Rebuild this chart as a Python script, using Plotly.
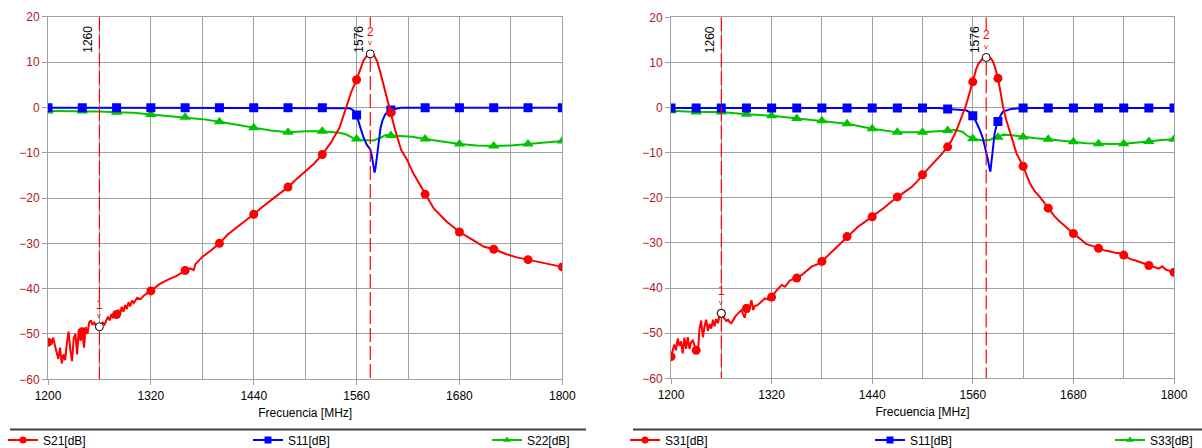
import plotly.graph_objects as go

# ---------------- LEFT CHART DATA ----------------
L_S21_F = [1200, 1202, 1204, 1206, 1208, 1210, 1212, 1214, 1216, 1218, 1220, 1222, 1224, 1226, 1228,
           1230, 1232, 1234, 1236, 1238, 1240, 1242, 1244, 1246, 1248, 1250, 1252, 1254, 1256, 1258,
           1260, 1262, 1264, 1266, 1268, 1270, 1272, 1274, 1276, 1278, 1280, 1282, 1284, 1286, 1288,
           1290, 1292, 1294, 1296, 1298, 1300, 1304, 1308, 1312, 1316, 1320, 1330, 1340, 1350, 1360,
           1366, 1370, 1372, 1380, 1390, 1400, 1410, 1420, 1430, 1440, 1450, 1460, 1470, 1480, 1490,
           1500, 1510, 1520, 1530, 1540, 1548, 1554, 1560, 1565, 1568, 1572, 1576, 1580, 1584, 1588,
           1592, 1596, 1600, 1605, 1612, 1619, 1626, 1634, 1640, 1650, 1665, 1680, 1696, 1708, 1720,
           1735, 1747, 1760, 1778, 1789, 1800]
L_S21_V = [-51.8, -51.2, -52.3, -50.8, -52.5, -54.0, -55.5, -53.0, -56.5, -54.5, -55.8, -52.0, -49.5, -53.5, -56.0,
           -51.0, -50.0, -54.5, -49.0, -51.5, -49.5, -53.0, -48.5, -50.0, -47.5, -47.0, -48.0, -47.5, -48.2, -48.0,
           -48.4, -47.8, -47.5, -47.9, -47.2, -46.2, -47.0, -45.6, -46.5, -45.2, -45.7, -44.6, -45.8, -44.0, -45.1,
           -43.6, -44.5, -43.0, -43.9, -42.6, -43.2, -42.0, -42.3, -41.5, -41.0, -40.5, -39.0, -38.0, -37.2, -36.0,
           -35.5, -35.9, -34.6, -33.0, -31.6, -30.0, -28.0, -26.6, -25.2, -23.6, -22.0, -20.6, -19.2, -17.6, -15.8,
           -14.2, -12.5, -10.4, -7.8, -4.5, 0.0, 3.5, 6.1, 9.0, 10.3, 11.4, 11.9, 11.6, 10.2, 7.5,
           4.5, 1.5, -1.2, -5.0, -9.4, -11.6, -14.5, -17.1, -19.2, -22.3, -25.2, -27.5, -29.3, -30.7, -31.3,
           -32.4, -33.1, -33.6, -34.4, -34.7, -35.2]

L_S11_F = [1200, 1540, 1552, 1556, 1560, 1564, 1568, 1572, 1576, 1578, 1580, 1581, 1582, 1584, 1586,
           1588, 1590, 1593, 1596, 1600, 1606, 1612, 1800]
L_S11_V = [-0.1, -0.1, -0.2, -0.6, -1.7, -4.2, -6.6, -8.3, -9.3, -11.0, -13.5, -14.4, -13.5, -10.5, -7.0,
           -4.5, -3.0, -1.7, -1.0, -0.6, -0.3, -0.1, -0.1]

L_S22_F = [1200, 1240, 1260, 1280, 1300, 1320, 1340, 1360, 1380, 1400, 1420, 1440, 1460, 1480, 1500,
           1520, 1540, 1548, 1556, 1564, 1572, 1580, 1588, 1594, 1600, 1610, 1625, 1640, 1660, 1680,
           1700, 1720, 1740, 1760, 1780, 1800]
L_S22_V = [-0.8, -0.8, -0.9, -1.1, -1.2, -1.6, -1.9, -2.2, -2.6, -3.2, -3.8, -4.5, -5.1, -5.5, -5.3,
           -5.3, -5.6, -6.0, -6.8, -7.2, -7.3, -7.3, -6.7, -6.1, -6.2, -6.3, -6.5, -7.0, -7.6, -8.1,
           -8.4, -8.5, -8.4, -8.1, -7.8, -7.4]

L_MK_F = [1200, 1240, 1280, 1320, 1360, 1400, 1440, 1480, 1520, 1560, 1600, 1640, 1680, 1720, 1760, 1800]
L_S21_MK = [-51.8, -49.5, -45.7, -40.5, -36.0, -30.0, -23.6, -17.6, -10.4, 6.1, -1.2, -19.2, -27.5, -31.3, -33.6, -35.2]
L_S11_MK = [-0.1, -0.1, -0.1, -0.1, -0.1, -0.1, -0.1, -0.1, -0.1, -1.7, -0.6, -0.1, -0.1, -0.1, -0.1, -0.1]
L_S22_MK = [-0.8, -0.8, -1.1, -1.6, -2.2, -3.2, -4.5, -5.5, -5.3, -7.0, -6.2, -7.0, -8.1, -8.5, -8.1, -7.4]

# ---------------- RIGHT CHART DATA ----------------
R_S31_F = [1200, 1202, 1204, 1206, 1208, 1210, 1212, 1214, 1216, 1218, 1220, 1222, 1224, 1226, 1228,
           1230, 1232, 1234, 1236, 1238, 1240, 1242, 1244, 1246, 1248, 1250, 1252, 1254, 1256, 1258,
           1260, 1262, 1264, 1266, 1268, 1270, 1272, 1274, 1276, 1278, 1280, 1282, 1284, 1286, 1288,
           1290, 1292, 1294, 1296, 1298, 1300, 1303, 1306, 1309, 1312, 1316, 1320, 1326, 1332, 1336,
           1342, 1350, 1356, 1362, 1368, 1374, 1380, 1386, 1392, 1400, 1410, 1416, 1423, 1430, 1440,
           1448, 1455, 1462, 1470, 1478, 1487, 1494, 1500, 1507, 1515, 1522, 1530, 1535, 1540, 1545,
           1551, 1555, 1560, 1564, 1567, 1571, 1575, 1578, 1581, 1584, 1587, 1590, 1593, 1596, 1600,
           1604, 1608, 1612, 1616, 1620, 1628, 1634, 1640, 1650, 1657, 1664, 1672, 1680, 1688, 1695,
           1703, 1710, 1718, 1724, 1730, 1736, 1740, 1748, 1754, 1760, 1766, 1770, 1776, 1782, 1786,
           1790, 1795, 1800]
R_S31_V = [-55.2, -54.0, -52.5, -53.8, -51.2, -52.8, -51.8, -54.5, -51.0, -53.5, -50.9, -53.5, -52.0, -51.6, -53.0,
           -53.8, -54.5, -49.0, -47.2, -50.9, -48.5, -47.0, -49.5, -48.0, -49.0, -47.0, -48.5, -46.8, -47.8, -46.0,
           -45.6, -46.5, -46.8, -47.3, -47.0, -47.6, -47.8, -47.0, -46.5, -46.0, -45.6, -45.3, -44.9, -45.8, -46.6,
           -44.5, -45.4, -44.2, -42.7, -44.9, -44.0, -43.8, -43.4, -42.8, -42.3, -42.5, -42.0, -40.5, -39.3, -39.7,
           -38.3, -37.8, -37.1, -36.2, -35.2, -34.8, -34.1, -33.0, -31.9, -30.4, -28.6, -27.5, -26.4, -25.5, -24.2,
           -23.2, -22.1, -21.0, -19.8, -18.8, -17.6, -16.3, -14.9, -13.5, -12.1, -10.5, -8.7, -7.2, -5.3, -3.0,
           0.0, 2.5, 5.7, 8.5, 9.8, 10.7, 11.2, 11.3, 11.0, 10.2, 8.6, 6.5, 3.5, 0.2, -2.8,
           -5.0, -7.6, -10.1, -11.7, -13.0, -16.8, -18.6, -19.8, -22.3, -24.0, -25.3, -26.7, -27.9, -29.1, -30.2,
           -30.7, -31.2, -31.7, -31.9, -32.2, -32.3, -32.7, -33.6, -33.9, -34.3, -34.8, -35.0, -35.3, -35.7, -35.2,
           -35.9, -36.2, -36.5]

R_S11_F = [1200, 1520, 1530, 1545, 1552, 1556, 1560, 1564, 1568, 1572, 1575, 1578, 1580, 1581, 1582,
           1584, 1586, 1588, 1590, 1593, 1596, 1600, 1606, 1612, 1620, 1800]
R_S11_V = [-0.1, -0.1, -0.3, -0.4, -0.6, -1.0, -1.8, -3.2, -4.8, -6.8, -8.9, -11.5, -13.6, -14.2, -12.5,
           -9.4, -5.8, -4.2, -3.1, -1.8, -0.9, -0.6, -0.3, -0.2, -0.1, -0.1]

R_S33_F = [1200, 1230, 1260, 1290, 1320, 1350, 1380, 1410, 1440, 1470, 1500, 1530, 1540, 1548, 1553,
           1560, 1565, 1572, 1580, 1586, 1590, 1596, 1604, 1612, 1620, 1635, 1650, 1665, 1680, 1695,
           1710, 1725, 1740, 1755, 1770, 1785, 1800]
R_S33_V = [-0.7, -1.0, -1.0, -1.5, -1.8, -2.4, -2.9, -3.6, -4.7, -5.5, -5.5, -5.1, -5.0, -5.4, -6.2,
           -6.9, -7.0, -7.3, -7.2, -6.6, -6.6, -6.0, -6.1, -6.3, -6.5, -6.8, -7.0, -7.3, -7.6, -7.9,
           -8.0, -8.1, -8.0, -7.8, -7.5, -7.2, -7.0]

R_MK_F = [1200, 1230, 1260, 1290, 1320, 1350, 1380, 1410, 1440, 1470, 1500, 1530, 1560, 1590, 1620,
          1650, 1680, 1710, 1740, 1770, 1800]
R_S31_MK = [-55.2, -53.8, -45.6, -44.5, -42.0, -37.8, -34.1, -28.6, -24.2, -19.8, -14.9, -8.7, 5.7, 6.5, -13.0,
            -22.3, -27.9, -31.2, -32.7, -35.0, -36.5]
R_S11_MK = [-0.1, -0.1, -0.1, -0.1, -0.1, -0.1, -0.1, -0.1, -0.1, -0.1, -0.1, -0.3, -1.8, -3.1, -0.1,
            -0.1, -0.1, -0.1, -0.1, -0.1, -0.1]
R_S33_MK = [-0.7, -1.0, -1.0, -1.5, -1.8, -2.4, -2.9, -3.6, -4.7, -5.5, -5.5, -5.1, -6.9, -6.6, -6.5,
            -7.0, -7.6, -8.0, -8.0, -7.5, -7.0]

# marker (cursor) positions and readings
CURSOR_F = [1260, 1576]
CURSOR_NAMES = ["1", "2"]
L_CURSOR_V = [-48.4, 11.8]
R_CURSOR_V = [-45.6, 11.1]

X_TICKS = [1200, 1320, 1440, 1560, 1680, 1800]
Y_TICKS = [20, 10, 0, -10, -20, -30, -40, -50, -60]

LEGEND_L = ["S21[dB]", "S11[dB]", "S22[dB]"]
LEGEND_R = ["S31[dB]", "S11[dB]", "S33[dB]"]
LEGEND_L_TEXT_X = [43, 288, 527]      # pixel start of legend text
LEGEND_R_TEXT_X = [665, 910, 1150]

# ---------------- STYLE ----------------
W, H = 1202, 448
RED, BLUE, GREEN = "#FF0000", "#0000FF", "#00C400"
GRID = "#A0A0A0"
YLAB = "#B01818"
FONT = "Liberation Sans, Arial, sans-serif"

fig = go.Figure()
legend_layouts = {}


def add_chart(xa, ya, f21, v21, f11, v11, fgg, vgg, mkf, mk21, mk11, mkgg, cur_v, names, text_x, leg_start):
    xr, yr = ("x" if xa == "" else "x" + xa), ("y" if ya == "" else "y" + ya)
    # green
    fig.add_trace(go.Scatter(x=fgg, y=vgg, mode="lines", line=dict(color=GREEN, width=2),
                             xaxis=xr, yaxis=yr, showlegend=False, hoverinfo="skip"))
    fig.add_trace(go.Scatter(x=mkf, y=mkgg, mode="markers",
                             marker=dict(symbol="triangle-up", size=10, color=GREEN),
                             xaxis=xr, yaxis=yr, showlegend=False, hoverinfo="skip"))
    # blue
    fig.add_trace(go.Scatter(x=f11, y=v11, mode="lines", line=dict(color=BLUE, width=2),
                             xaxis=xr, yaxis=yr, showlegend=False, hoverinfo="skip"))
    fig.add_trace(go.Scatter(x=mkf, y=mk11, mode="markers",
                             marker=dict(symbol="square", size=9, color=BLUE),
                             xaxis=xr, yaxis=yr, showlegend=False, hoverinfo="skip"))
    # red
    fig.add_trace(go.Scatter(x=f21, y=v21, mode="lines", line=dict(color=RED, width=2),
                             xaxis=xr, yaxis=yr, showlegend=False, hoverinfo="skip"))
    fig.add_trace(go.Scatter(x=mkf, y=mk21, mode="markers",
                             marker=dict(symbol="circle", size=9, color=RED),
                             xaxis=xr, yaxis=yr, showlegend=False, hoverinfo="skip"))
    # cursors
    for cf, cv, cn in zip(CURSOR_F, cur_v, CURSOR_NAMES):
        fig.add_shape(type="line", xref=xr, yref=yr, x0=cf, x1=cf, y0=20, y1=cv + 6.0,
                      line=dict(color=RED, width=1.2, dash="14px,4px"), layer="above")
        fig.add_shape(type="line", xref=xr, yref=yr, x0=cf, x1=cf, y0=cv - 0.9, y1=-60,
                      line=dict(color=RED, width=1.2, dash="14px,4px"), layer="above")
        fig.add_annotation(x=cf, y=15, xref=xr, yref=yr, text=str(cf), textangle=-90,
                           showarrow=False, xshift=-11, font=dict(size=12, color="black", family=FONT))
        fig.add_annotation(x=cf, y=cv, xref=xr, yref=yr, text=cn, showarrow=False, yshift=22,
                           font=dict(size=12, color=RED, family=FONT))
        fig.add_annotation(x=cf, y=cv, xref=xr, yref=yr, text="v", showarrow=False, yshift=11,
                           font=dict(size=8, color=RED, family=FONT))
    fig.add_trace(go.Scatter(x=CURSOR_F, y=cur_v, mode="markers",
                             marker=dict(symbol="circle", size=8, color="white",
                                         line=dict(color="black", width=1)),
                             xaxis=xr, yaxis=yr, showlegend=False, hoverinfo="skip"))
    # legend entries: one legend per entry so each can be placed exactly
    for i, (nm, col, sym, tx) in enumerate(zip(names, [RED, BLUE, GREEN], ["circle", "square", "triangle-up"], text_x)):
        lname = "legend" if leg_start + i == 1 else "legend%d" % (leg_start + i)
        fig.add_trace(go.Scatter(x=[None], y=[None], mode="lines+markers", name=nm,
                                 line=dict(color=col, width=2),
                                 marker=dict(symbol=sym, size=7, color=col),
                                 xaxis=xr, yaxis=yr, legend=lname))
        legend_layouts[lname] = dict(
            orientation="h", x=(tx - 40) / W, xanchor="left", y=(H - 440) / H, yanchor="middle",
            font=dict(size=12, family=FONT, color="black"), bgcolor="rgba(0,0,0,0)",
            borderwidth=0, itemclick=False, itemdoubleclick=False)


add_chart("", "", L_S21_F, L_S21_V, L_S11_F, L_S11_V, L_S22_F, L_S22_V,
          L_MK_F, L_S21_MK, L_S11_MK, L_S22_MK, L_CURSOR_V, LEGEND_L, LEGEND_L_TEXT_X, 1)
add_chart("2", "2", R_S31_F, R_S31_V, R_S11_F, R_S11_V, R_S33_F, R_S33_V,
          R_MK_F, R_S31_MK, R_S11_MK, R_S33_MK, R_CURSOR_V, LEGEND_R, LEGEND_R_TEXT_X, 4)

xcommon = dict(range=[1200, 1800], tickvals=X_TICKS, ticks="outside", ticklen=5, tickcolor=GRID,
               showgrid=True, gridcolor=GRID, gridwidth=1, zeroline=False, automargin=False,
               showline=True, linecolor=GRID, linewidth=1, mirror=True,
               minor=dict(dtick=60, tick0=1200, showgrid=True, gridcolor=GRID, gridwidth=1, ticks=""),
               tickfont=dict(size=12, color="black", family=FONT),
               title=dict(text="Frecuencia [MHz]", font=dict(size=12, color="black", family=FONT), standoff=6),
               fixedrange=True)
ycommon = dict(range=[-60, 20], tickvals=Y_TICKS, ticks="outside", ticklen=5, tickcolor=GRID,
               showgrid=True, gridcolor=GRID, gridwidth=1, zeroline=False, automargin=False,
               showline=True, linecolor=GRID, linewidth=1, mirror=True,
               tickfont=dict(size=12, color=YLAB, family=FONT), fixedrange=True)

fig.update_layout(
    width=W, height=H,
    margin=dict(l=0, r=0, t=0, b=0, autoexpand=False),
    paper_bgcolor="white", plot_bgcolor="white",
    font=dict(family=FONT, size=12, color="black"),
    xaxis=dict(domain=[48 / W, 562.3 / W], anchor="y", **xcommon),
    yaxis=dict(domain=[(H - 379.3) / H, (H - 16.7) / H], anchor="x", **ycommon),
    xaxis2=dict(domain=[671 / W, 1174 / W], anchor="y2", **xcommon),
    yaxis2=dict(domain=[(H - 378.3) / H, (H - 17.3) / H], anchor="x2", **ycommon),
    **legend_layouts,
)

# legend separator lines
fig.add_shape(type="line", xref="paper", yref="paper", x0=10 / W, x1=586 / W,
              y0=(H - 429.5) / H, y1=(H - 429.5) / H, line=dict(color="#404040", width=2))
fig.add_shape(type="line", xref="paper", yref="paper", x0=633 / W, x1=1.0,
              y0=(H - 429.5) / H, y1=(H - 429.5) / H, line=dict(color="#404040", width=2))

fig.write_html("out.html",
               config={"displayModeBar": False, "staticPlot": False},
               post_script="document.body.style.margin='0';document.body.style.padding='0';"
                           "document.body.style.overflow='hidden';")
